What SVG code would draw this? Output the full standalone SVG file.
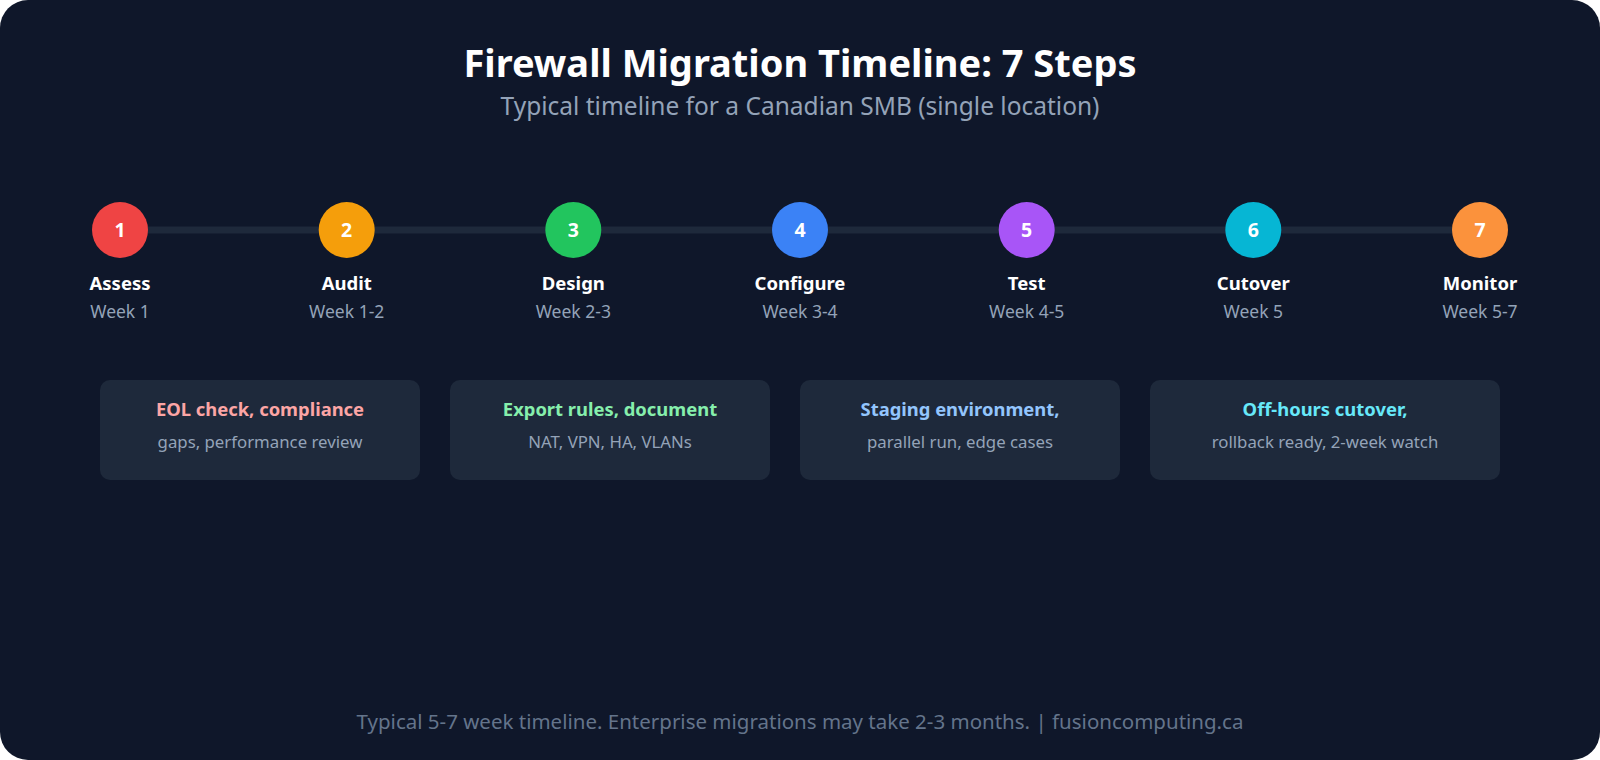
<svg xmlns="http://www.w3.org/2000/svg" width="1600" height="760" viewBox="0 0 1600 760">
<style>
text{font-family:"Noto Sans","Open Sans","DejaVu Sans",sans-serif;text-anchor:middle}
.title{font-size:38px;font-weight:700;fill:#ffffff}
.sub{font-size:24.5px;fill:#94a3b8}
.num{font-size:19.5px;font-weight:700;fill:#ffffff}
.lbl{font-size:18.5px;font-weight:700;fill:#ffffff}
.wk{font-size:17.5px;fill:#94a3b8}
.box{fill:#1e293b}
.bt{font-size:18.4px;font-weight:700}
.bs{font-size:16.8px;fill:#94a3b8}
.foot{font-size:20.5px;fill:#64748b}
</style>
<rect x="0" y="0" width="1600" height="760" fill="#ffffff"/>
<rect x="0" y="0" width="1600" height="760" rx="28" fill="#0f172a"/>
<text class="title" x="800" y="77">Firewall Migration Timeline: 7 Steps</text>
<text class="sub" x="800" y="115">Typical timeline for a Canadian SMB (single location)</text>
<g id="connectors">
<line x1="120" y1="230" x2="1480" y2="230" stroke="#1e293b" stroke-width="7"/>
</g>
<g id="step1"><circle cx="120" cy="230" r="28" fill="#ef4444"/><text class="num" x="120" y="237">1</text><text class="lbl" x="120" y="290">Assess</text><text class="wk" x="120" y="318">Week 1</text></g>
<g id="step2"><circle cx="346.7" cy="230" r="28" fill="#f59e0b"/><text class="num" x="346.7" y="237">2</text><text class="lbl" x="346.7" y="290">Audit</text><text class="wk" x="346.7" y="318">Week 1-2</text></g>
<g id="step3"><circle cx="573.3" cy="230" r="28" fill="#22c55e"/><text class="num" x="573.3" y="237">3</text><text class="lbl" x="573.3" y="290">Design</text><text class="wk" x="573.3" y="318">Week 2-3</text></g>
<g id="step4"><circle cx="800" cy="230" r="28" fill="#3b82f6"/><text class="num" x="800" y="237">4</text><text class="lbl" x="800" y="290">Configure</text><text class="wk" x="800" y="318">Week 3-4</text></g>
<g id="step5"><circle cx="1026.7" cy="230" r="28" fill="#a855f7"/><text class="num" x="1026.7" y="237">5</text><text class="lbl" x="1026.7" y="290">Test</text><text class="wk" x="1026.7" y="318">Week 4-5</text></g>
<g id="step6"><circle cx="1253.3" cy="230" r="28" fill="#06b6d4"/><text class="num" x="1253.3" y="237">6</text><text class="lbl" x="1253.3" y="290">Cutover</text><text class="wk" x="1253.3" y="318">Week 5</text></g>
<g id="step7"><circle cx="1480" cy="230" r="28" fill="#fb923c"/><text class="num" x="1480" y="237">7</text><text class="lbl" x="1480" y="290">Monitor</text><text class="wk" x="1480" y="318">Week 5-7</text></g>
<g id="box1"><rect class="box" x="100" y="380" width="320" height="100" rx="10"/><text class="bt" x="260" y="415.5" fill="#fca5a5">EOL check, compliance</text><text class="bs" x="260" y="448">gaps, performance review</text></g>
<g id="box2"><rect class="box" x="450" y="380" width="320" height="100" rx="10"/><text class="bt" x="610" y="415.5" fill="#86efac">Export rules, document</text><text class="bs" x="610" y="448">NAT, VPN, HA, VLANs</text></g>
<g id="box3"><rect class="box" x="800" y="380" width="320" height="100" rx="10"/><text class="bt" x="960" y="415.5" fill="#93c5fd">Staging environment,</text><text class="bs" x="960" y="448">parallel run, edge cases</text></g>
<g id="box4"><rect class="box" x="1150" y="380" width="350" height="100" rx="10"/><text class="bt" x="1325" y="415.5" fill="#67e8f9">Off-hours cutover,</text><text class="bs" x="1325" y="448">rollback ready, 2-week watch</text></g>
<text class="foot" x="800" y="729">Typical 5-7 week timeline. Enterprise migrations may take 2-3 months. | fusioncomputing.ca</text>
</svg>
